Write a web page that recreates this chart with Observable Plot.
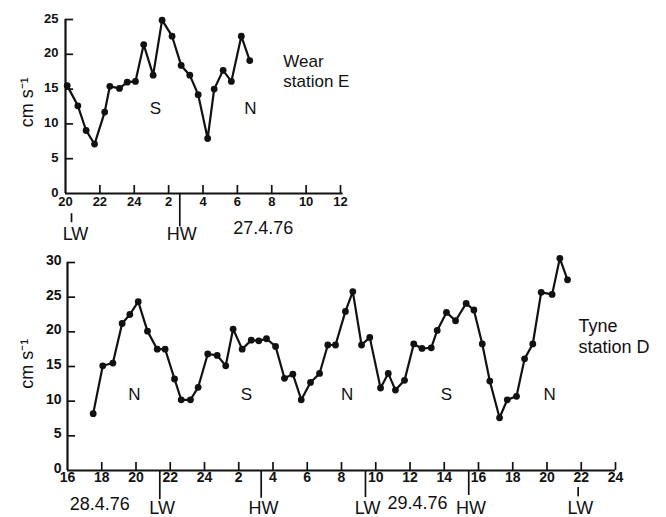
<!DOCTYPE html>
<html><head><meta charset="utf-8">
<script src="https://cdn.jsdelivr.net/npm/d3@7"></script>
<script src="https://cdn.jsdelivr.net/npm/@observablehq/plot@0.6"></script>
<style>
body{margin:0;background:#fff}
#chart{position:relative;width:666px;height:517px;overflow:hidden;background:#fff}
#chart svg{position:absolute;left:0;display:block;overflow:visible}
</style></head><body><div id="chart"></div>
<script>
// ---- Wear station E (hours after 20:00, 26.4.76) ----
const wearHours = [0.1, 0.72, 1.2, 1.69, 2.28, 2.58, 3.14, 3.59, 4.07, 4.55, 5.1, 5.62, 6.2, 6.73, 7.23, 7.72, 8.27, 8.65, 9.17, 9.65, 10.23, 10.72];
const wearSpeed = [15.5, 12.6, 9.05, 7.1, 11.7, 15.4, 15.1, 16.0, 16.1, 21.4, 17.0, 24.9, 22.6, 18.4, 17.0, 14.2, 7.9, 15.0, 17.7, 16.1, 22.6, 19.1];
const wearTicks = [0, 2, 4, 6, 8, 10, 12, 14, 16];
const wearTickLabels = ["20", "22", "24", "2", "4", "6", "8", "10", "12"];
const wearYTicks = [0, 5, 10, 15, 20, 25];
const wearTideHours = [0.35, 6.65];
const wearTideLabels = ["LW", "HW"];

// ---- Tyne station D (hours after 16:00, 28.4.76) ----
const tyneHours = [1.5, 2.06, 2.65, 3.19, 3.64, 4.13, 4.67, 5.24, 5.7, 6.25, 6.64, 7.18, 7.63, 8.19, 8.74, 9.24, 9.67, 10.2, 10.73, 11.17, 11.62, 12.15, 12.67, 13.16, 13.65, 14.19, 14.72, 15.2, 15.65, 16.23, 16.66, 17.17, 17.65, 18.28, 18.73, 19.15, 19.68, 20.22, 20.7, 21.24, 21.59, 22.13, 22.66, 23.28, 23.73, 24.22, 24.66, 25.23, 25.68, 26.22, 26.69, 27.17, 27.66, 28.3, 28.75, 29.2];
const tyneSpeed = [8.2, 15.1, 15.5, 21.2, 22.5, 24.35, 20.1, 17.5, 17.5, 13.2, 10.2, 10.2, 12.0, 16.8, 16.6, 15.1, 20.4, 17.5, 18.8, 18.7, 19.0, 17.9, 13.3, 13.9, 10.2, 12.7, 14.0, 18.1, 18.1, 22.95, 25.8, 18.1, 19.2, 11.9, 14.0, 11.6, 13.0, 18.25, 17.6, 17.7, 20.2, 22.8, 21.6, 24.1, 23.15, 18.25, 12.9, 7.6, 10.2, 10.7, 16.1, 18.25, 25.7, 25.4, 30.6, 27.5];
const tyneTicks = [0, 2, 4, 6, 8, 10, 12, 14, 16, 18, 20, 22, 24, 26, 28, 30, 32];
const tyneTickLabels = ["16", "18", "20", "22", "24", "2", "4", "6", "8", "10", "12", "14", "16", "18", "20", "22", "24"];
const tyneYTicks = [0, 5, 10, 15, 20, 25, 30];
const tyneTideHours = [5.39, 11.31, 17.4, 23.43, 29.82];
const tyneTideLabels = ["LW", "HW", "LW", "HW", "LW"];

// direction labels (N / S)
const wearDirHours = [5.23, 10.76];
const wearDirLabels = ["S", "N"];
const tyneDirHours = [3.91, 10.45, 16.33, 22.13, 28.16];
const tyneDirLabels = ["N", "S", "N", "S", "N"];

const FONT = "'Liberation Sans', Arial, sans-serif";
const INK = "#111";

const wear = wearHours.map((t, i) => ({t, v: wearSpeed[i]}));
const tyne = tyneHours.map((t, i) => ({t, v: tyneSpeed[i]}));

// tide marker geometry (data units) - style
const wearTideExt = [[-2.9, -4.2], [0, -4.8]];
const tyneTideExt = [[0, -4.2], [0, -4.0], [0, -3.9], [0, -3.6], [-2.45, -3.8]];

const topPlot = Plot.plot({
  width: 666, height: 245,
  marginLeft: 65, marginRight: 326, marginTop: 19, marginBottom: 52,
  x: {domain: [0, 16]}, y: {domain: [0, 25]},
  style: {fontFamily: FONT, color: INK, background: "transparent"},
  marks: [
    Plot.axisY(wearYTicks, {tickSize: 0, tickPadding: 7, dy: -1, fontSize: 13, fontWeight: "bold", label: null}),
    Plot.axisX(wearTicks, {tickSize: 0, tickPadding: 3, fontSize: 13, fontWeight: "bold", label: null,
      tickFormat: d => wearTickLabels[wearTicks.indexOf(d)]}),
    Plot.ruleX([0], {y1: 0, y2: 25, stroke: INK, strokeWidth: 2.2}),
    Plot.ruleY([0], {x1: 0, x2: 16.15, stroke: INK, strokeWidth: 2.2}),
    Plot.ruleX(wearTicks.slice(1), {y1: 0, y2: 1.15, stroke: INK, strokeWidth: 1.7}),
    Plot.ruleY(wearYTicks.slice(1), {x1: 0, x2: 0.47, stroke: INK, strokeWidth: 1.7}),
    Plot.ruleX(wearTideHours, {x: d => d, y1: (d, i) => wearTideExt[i][0], y2: (d, i) => wearTideExt[i][1], stroke: INK, strokeWidth: 1.7}),
    Plot.text(wearTideLabels, {x: (d, i) => wearTideHours[i] + (i === 0 ? 0.23 : 0.12), y: -5.9, text: d => d, fontSize: 18}),
    Plot.text(["27.4.76"], {x: 11.5, y: -5.0, text: d => d, fontSize: 18}),
    Plot.line(wear, {x: "t", y: "v", stroke: INK, strokeWidth: 2.2}),
    Plot.dot(wear, {x: "t", y: "v", r: 3.4, fill: INK}),
    Plot.text(wearDirLabels, {x: (d, i) => wearDirHours[i], y: 12.2, text: d => d, fontSize: 17}),
    Plot.text(["Wear\nstation E"], {x: 12.67, y: 17.7, text: d => d, fontSize: 17, textAnchor: "start", lineHeight: 1.18}),
    Plot.text(["cm s⁻¹"], {x: -2.2, y: 13.1, text: d => d, fontSize: 18, rotate: -90})
  ]
});

const botPlot = Plot.plot({
  width: 666, height: 272,
  marginLeft: 67, marginRight: 51, marginTop: 17, marginBottom: 47,
  x: {domain: [0, 32]}, y: {domain: [0, 30]},
  style: {fontFamily: FONT, color: INK, background: "transparent"},
  marks: [
    Plot.axisY(tyneYTicks, {tickSize: 0, tickPadding: 6, dy: -2, fontSize: 14, fontWeight: "bold", label: null}),
    Plot.axisX(tyneTicks, {tickSize: 0, tickPadding: 2, fontSize: 14, fontWeight: "bold", label: null,
      tickFormat: d => tyneTickLabels[tyneTicks.indexOf(d)]}),
    Plot.ruleX([0], {y1: 0, y2: 30, stroke: INK, strokeWidth: 2.2}),
    Plot.ruleY([0], {x1: 0, x2: 32, stroke: INK, strokeWidth: 2.2}),
    Plot.ruleX(tyneTicks.slice(1), {y1: 0, y2: 1.15, stroke: INK, strokeWidth: 1.7}),
    Plot.ruleY(tyneYTicks.slice(1), {x1: 0, x2: 0.47, stroke: INK, strokeWidth: 1.7}),
    Plot.ruleX(tyneTideHours, {x: d => d, y1: (d, i) => tyneTideExt[i][0], y2: (d, i) => tyneTideExt[i][1], stroke: INK, strokeWidth: 1.7}),
    Plot.text(tyneTideLabels, {x: (d, i) => tyneTideHours[i] + 0.13, y: -5.45, text: d => d, fontSize: 18}),
    Plot.text(["28.4.76", "29.4.76"], {x: (d, i) => [1.88, 20.44][i], y: (d, i) => [-4.9, -4.7][i], text: d => d, fontSize: 18}),
    Plot.line(tyne, {x: "t", y: "v", stroke: INK, strokeWidth: 2.2}),
    Plot.dot(tyne, {x: "t", y: "v", r: 3.4, fill: INK}),
    Plot.text(tyneDirLabels, {x: (d, i) => tyneDirHours[i], y: 10.95, text: d => d, fontSize: 17}),
    Plot.text(["Tyne\nstation D"], {x: 29.84, y: 19.5, text: d => d, fontSize: 18, textAnchor: "start", lineHeight: 1.17}),
    Plot.text(["cm s⁻¹"], {x: -2.34, y: 15.4, text: d => d, fontSize: 18, rotate: -90})
  ]
});

const chart = document.getElementById("chart");
topPlot.style.top = "0px";
botPlot.style.top = "245px";
chart.appendChild(topPlot);
chart.appendChild(botPlot);
</script>
</body></html>
